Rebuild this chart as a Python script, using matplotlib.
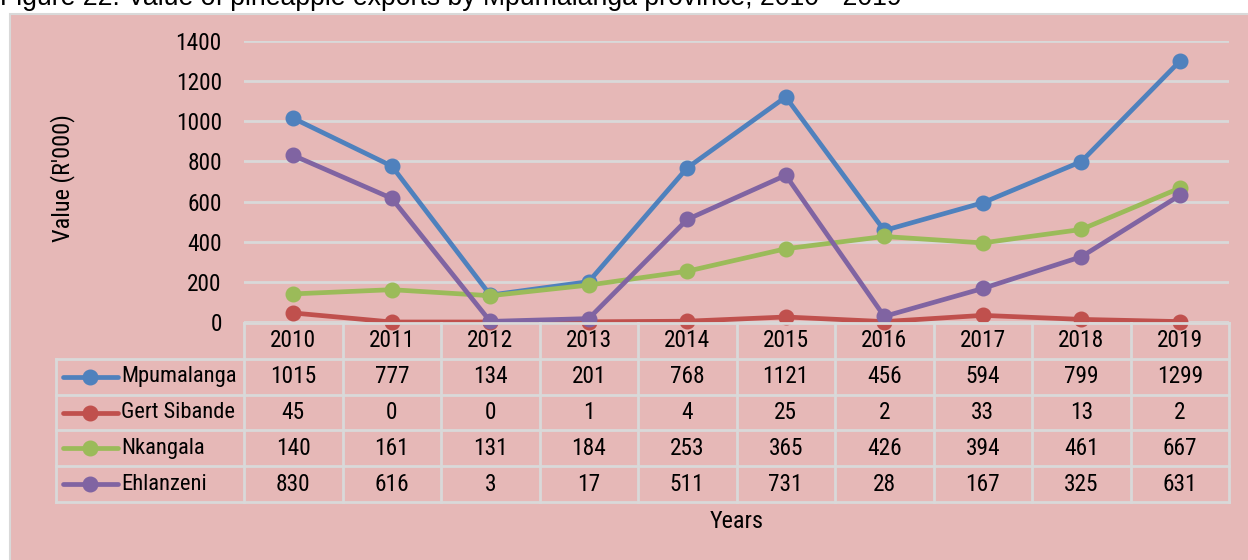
import matplotlib.pyplot as plt
from matplotlib import font_manager
from matplotlib.patches import Rectangle

years = [2010, 2011, 2012, 2013, 2014, 2015, 2016, 2017, 2018, 2019]
mpumalanga = [1015, 777, 134, 201, 768, 1121, 456, 594, 799, 1299]
gert_sibande = [45, 0, 0, 1, 4, 25, 2, 33, 13, 2]
nkangala = [140, 161, 131, 184, 253, 365, 426, 394, 461, 667]
ehlanzeni = [830, 616, 3, 17, 511, 731, 28, 167, 325, 631]

series_names = ["Mpumalanga", "Gert Sibande", "Nkangala", "Ehlanzeni"]
series_values = [mpumalanga, gert_sibande, nkangala, ehlanzeni]
colors = ["#4F81BD", "#C0504D", "#9BBB59", "#8064A2"]

W, H = 1248, 560
bg = "#E6B8B7"
grid_c = "#D9D9D9"

# the original uses Arial Narrow; pick a condensed face if one is installed
installed = {f.name for f in font_manager.fontManager.ttflist}
narrow_font = None
for cand in ["Liberation Sans Narrow", "Arial Narrow", "Roboto Condensed", "Open Sans Condensed"]:
    if cand in installed:
        narrow_font = cand
        break
if narrow_font:
    narrow = [narrow_font, "DejaVu Sans"]
    fs = 16.8
else:
    narrow = ["Liberation Sans", "DejaVu Sans"]
    fs = 14.5

fig = plt.figure(figsize=(W / 100, H / 100), dpi=100)
fig.patch.set_facecolor("white")

# pink chart area with light border
fig.patches.append(Rectangle((10 / W, -0.05), 1.1, (H - 14) / H + 0.05,
                             transform=fig.transFigure, facecolor=bg,
                             edgecolor=grid_c, linewidth=1.5, zorder=-5))

fig.text(0, 1 - 5 / H, "Figure 22: Value of pineapple exports by Mpumalanga province, 2010 - 2019",
         fontsize=19.2, family=["Liberation Sans", "DejaVu Sans"], va="baseline", ha="left")


def px(x0, y0, x1, y1):
    return [x0 / W, 1 - y1 / H, (x1 - x0) / W, (y1 - y0) / H]


# main plot
ax = fig.add_axes(px(244, 41, 1229, 322))
ax.set_facecolor("none")
x = list(range(len(years)))
for vals, c in zip(series_values, colors):
    ax.plot(x, vals, color=c, lw=3.4, marker="o", ms=10.5, clip_on=False, zorder=3)
ax.set_xlim(-0.5, len(years) - 0.5)
ax.set_ylim(0, 1400)
ax.set_yticks(range(0, 1401, 200))
ax.set_xticks([])
ax.tick_params(axis="y", length=0, pad=16, labelsize=fs)
for lab in ax.get_yticklabels():
    lab.set_family(narrow)
ax.grid(axis="y", color=grid_c, lw=2)
ax.set_axisbelow(True)
for s in ax.spines.values():
    s.set_visible(False)

fig.text(63 / W, 1 - 178 / H, "Value (R'000)", rotation=90, fontsize=fs + 0.7,
         family=narrow, ha="center", va="center")
fig.text(737 / W, 1 - 522 / H, "Years", fontsize=fs + 0.7, family=narrow,
         ha="center", va="center")

# data table
colw = 98.5
x0 = -0.5 - (244 - 56) / colw
tx = fig.add_axes(px(56, 323, 1229, 502))
tx.set_axis_off()
tx.set_xlim(x0, len(years) - 0.5)
tx.set_ylim(5, 0)
lk = dict(color=grid_c, lw=2, clip_on=False)
tx.plot([-0.5, len(years) - 0.5], [0, 0], **lk)
for r in range(1, 6):
    tx.plot([x0, len(years) - 0.5], [r, r], **lk)
tx.plot([x0, x0], [1, 5], **lk)
for k in range(len(years) + 1):
    tx.plot([k - 0.5, k - 0.5], [0, 5], **lk)
for k, yr in enumerate(years):
    tx.text(k, 0.5, str(yr), ha="center", va="center", fontsize=fs, family=narrow)
for r, (name, vals, c) in enumerate(zip(series_names, series_values, colors), start=1):
    lx0 = x0 + (63 - 56) / colw
    lx1 = x0 + (118 - 56) / colw
    mx = x0 + (90 - 56) / colw
    tx.plot([lx0, lx1], [r + 0.5, r + 0.5], color=c, lw=3.4, solid_capstyle="round", clip_on=False)
    tx.plot([mx], [r + 0.5], marker="o", ms=10.5, color=c, clip_on=False)
    tx.text(x0 + (121 - 56) / colw, r + 0.5, name, ha="left", va="center",
            fontsize=fs - 0.6, family=narrow)
    for k, v in enumerate(vals):
        tx.text(k, r + 0.5, str(v), ha="center", va="center", fontsize=fs, family=narrow)

fig.savefig("out.png", dpi=100)
